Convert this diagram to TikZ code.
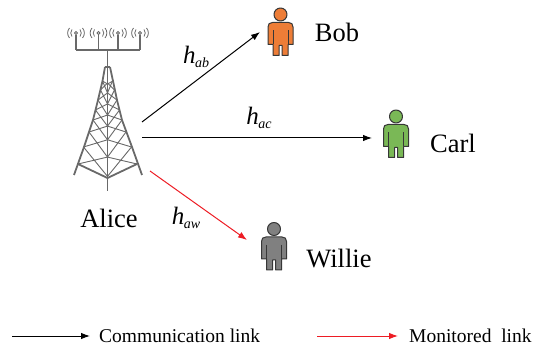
\documentclass[tikz,border=0pt]{standalone}
\usepackage{fontspec}
\setmainfont{Liberation Serif}
\usetikzlibrary{arrows.meta}
\definecolor{towergray}{RGB}{105,105,105}
\definecolor{linkred}{RGB}{237,28,36}
\definecolor{bobfill}{RGB}{237,125,55}
\definecolor{carlfill}{RGB}{122,184,86}
\definecolor{williefill}{RGB}{128,128,128}
\definecolor{personline}{RGB}{55,55,55}
\newcommand{\chanlabel}[2]{\fontsize{25}{25}\selectfont\itshape #1\kern-0.5pt\raisebox{-4pt}{\fontsize{14}{14}\selectfont\itshape #2}}
\tikzset{
  x=1pt,y=-1pt,
  lbl/.style={inner sep=0pt,font=\fontsize{26.5}{27}\selectfont},
  chan/.style={inner sep=0pt},
  legendtext/.style={inner sep=0pt,anchor=west,font=\fontsize{19.5}{20}\selectfont},
  blink/.style={draw=black,line width=1pt,-{Latex[length=9pt,width=6.5pt]}},
  rlink/.style={draw=linkred,line width=1pt,-{Latex[length=9pt,width=6.5pt]}},
  tw/.style={draw=towergray,line width=1.8pt},
  twthin/.style={draw=towergray,line width=0.9pt},
  wave/.style={draw=towergray,line width=0.8pt},
  personbody/.style={draw=personline,line width=1pt,line join=round},
  pics/person/.style={code={
    \fill[personbody,fill=#1] (0,0) circle (6.5);
    \draw[personbody,fill=#1] (-8,8) -- (8,8) .. controls (11,8) and (12.5,9.5) .. (12.5,12.5)
      -- (12.5,30) -- (7.5,30) -- (7.5,41) -- (1.5,41) -- (1.5,31) -- (-1.5,31) -- (-1.5,41)
      -- (-7.5,41) -- (-7.5,30) -- (-12.5,30) -- (-12.5,12.5) .. controls (-12.5,9.5) and (-11,8) .. (-8,8) -- cycle;
    \draw[personbody] (-7.5,16) -- (-7.5,30) (7.5,16) -- (7.5,30);
  }},
  pics/antenna/.style={code={
    \draw[wave] (0,0) circle (1.5);
    \draw[wave] (-4,-3.5) .. controls (-5.7,-1.5) and (-5.7,1.5) .. (-4,3.5);
    \draw[wave] (4,-3.5) .. controls (5.7,-1.5) and (5.7,1.5) .. (4,3.5);
    \draw[wave] (-6.5,-5) .. controls (-9,-2) and (-9,2) .. (-6.5,5);
    \draw[wave] (6.5,-5) .. controls (9,-2) and (9,2) .. (6.5,5);
  }}
}
\begin{document}
\begin{tikzpicture}
\useasboundingbox (0,0) rectangle (538,347);
% tower
\draw[twthin,line width=1.2pt] (76,50) -- (140,50) (76,50) -- (76,35) (98.5,50) -- (98.5,35) (118,50) -- (118,35) (140,50) -- (140,35);
\pic at (76,33) {antenna};
\pic at (98.5,33) {antenna};
\pic at (118,33) {antenna};
\pic at (140,33) {antenna};
\draw[tw] (107.5,50) -- (107.5,191);
\draw[tw] (105,67) -- (102.5,81) -- (98,100) -- (93,120) -- (84,147) -- (74,175);
\draw[tw] (110,67) -- (113,81) -- (117,100) -- (122,120) -- (132,147) -- (142,175);
\draw[tw] (105,67) -- (110,67);
\draw[tw] (78,164) -- (107.5,178) -- (137,164);
\draw[twthin] (102.5,81) -- (107.5,84) -- (113,81);
\foreach \ya/\wa/\yb/\wb in {81/5/90/7,90/7/100/9.5,100/9.5/110/12,110/12/120/14.5,120/14.5/132/18.5,132/18.5/147/24,147/24/164/29.5}{
  \pgfmathsetmacro{\la}{107.5-\wa}
  \pgfmathsetmacro{\lb}{107.5-\wb}
  \pgfmathsetmacro{\ra}{107.5+\wa}
  \pgfmathsetmacro{\rb}{107.5+\wb}
  \pgfmathsetmacro{\ca}{\ya+\wa*0.42}
  \pgfmathsetmacro{\cb}{\yb+\wb*0.42}
  \draw[twthin] (\la,\ya) -- (107.5,\cb) (\lb,\yb) -- (107.5,\ca);
  \draw[twthin] (\ra,\ya) -- (107.5,\cb) (\rb,\yb) -- (107.5,\ca);
}
% persons
\pic at (280.5,14.5) {person=bobfill};
\pic at (396,116.5) {person=carlfill};
\pic at (274,229) {person=williefill};
% connector ends
\coordinate (aliceb) at (142,122);
\coordinate (alicec) at (142,138);
\coordinate (alicew) at (150,171);
\coordinate (bobin) at (260,32);
\coordinate (carlin) at (372,138);
\coordinate (williein) at (247,240);
\coordinate (la) at (12,336);
\coordinate (lb) at (90,336);
\coordinate (lc) at (317,336);
\coordinate (ld) at (398,336);
\draw[blink] (aliceb) -- (bobin);
\draw[blink] (alicec) -- (carlin);
\draw[rlink] (alicew) -- (williein);
\draw[blink] (la) -- (lb);
\draw[rlink] (lc) -- (ld);
% labels
\node[lbl] (alice) at (109,218) {Alice};
\node[lbl] (bob) at (337,32) {Bob};
\node[lbl] (carl) at (453,143) {Carl};
\node[lbl] (willie) at (339,259) {Willie};
\node[chan] (hab) at (196,57) {\chanlabel{h}{ab}};
\node[chan] (hac) at (259,118) {\chanlabel{h}{ac}};
\node[chan] (haw) at (186,218) {\chanlabel{h}{aw}};
\node[legendtext] (lt1) at (99,336) {Communication link};
\node[legendtext] (lt2) at (409,336) {Monitored\ \ link};
\end{tikzpicture}
\end{document}
